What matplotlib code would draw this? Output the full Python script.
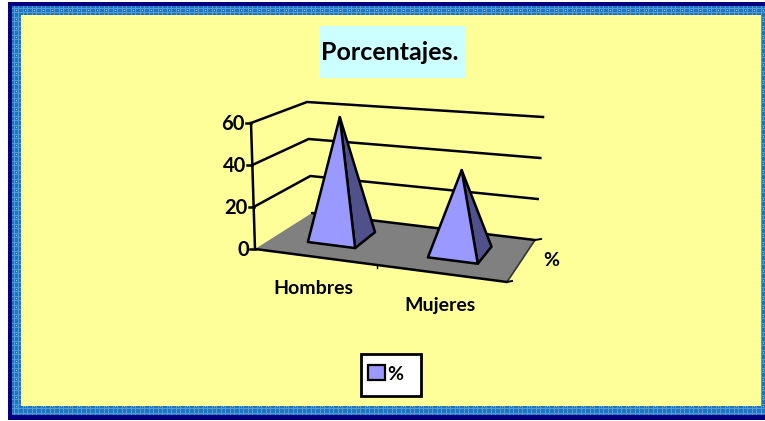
import numpy as np
import matplotlib
matplotlib.use("Agg")
import matplotlib.pyplot as plt
from matplotlib.patches import Rectangle, Polygon

# data
categories = ["Hombres", "Mujeres"]
values = [60, 40]
series_name = "%"
y_ticks = [0, 20, 40, 60]
y_max = 60

plt.rcParams['font.family'] = ['Lato', 'DejaVu Sans']

W, H = 765, 421
fig = plt.figure(figsize=(W / 100, H / 100), dpi=100)
ax = fig.add_axes([0, 0, 1, 1])
ax.set_xlim(0, W)
ax.set_ylim(H, 0)
ax.axis('off')


# corners of the box on screen: front left, front right, back right, back left
def homography(pts):
    src = [(0, 0), (1, 0), (1, 1), (0, 1)]
    a, b = [], []
    for (s, d), (x, y) in zip(src, pts):
        a.append([s, d, 1, 0, 0, 0, -s * x, -d * x])
        a.append([0, 0, 0, s, d, 1, -s * y, -d * y])
        b += [x, y]
    return np.append(np.linalg.solve(np.array(a, float), np.array(b, float)), 1).reshape(3, 3)


floor_h = homography([(255, 249), (507, 282), (535, 240), (312, 213)])
# screen offset of the top of the box at those same corners
lift = np.array([[-4, -126], [0, -125], [8, -123], [-5, -111]], float)


def proj(s, d, v=0):
    p = floor_h @ [s, d, 1]
    off = (1 - s) * (1 - d) * lift[0] + s * (1 - d) * lift[1] + s * d * lift[2] + (1 - s) * d * lift[3]
    return p[:2] / p[2] + off * v / y_max


# frame
def band_texture(w, h):
    img = np.zeros((h, w, 3))
    img[:] = (0.12, 0.46, 0.75)
    for j in range(h):
        for i in range(w):
            if i % 9 in (2, 6) or j % 9 in (2, 6):
                img[j, i] = (0.33, 0.61, 0.84)
            if i % 9 == 4 and j % 9 == 4:
                img[j, i] = (0.6, 0.8, 0.93)
    return img


ax.add_patch(Rectangle((8, 2), W - 8, 418, fc='#000080', ec='none', zorder=0))
ax.imshow(band_texture(W - 12, 409), extent=(12, W, 415, 6), zorder=1, aspect='auto', interpolation='nearest')
ax.set_xlim(0, W)
ax.set_ylim(H, 0)
ax.add_patch(Rectangle((21, 15), 740, 391, fc='#FFFF99', ec='none', zorder=2))

# title
ax.add_patch(Rectangle((320, 26), 146, 52, fc='#CCFFFF', ec='none', zorder=3))
ax.text(389.5, 52, "Porcentajes.", ha='center', va='center', fontsize=18, fontweight='bold', color='black', zorder=4)

# floor
ax.add_patch(Polygon([proj(0, 0), proj(1, 0), proj(1, 1), proj(0, 1)], fc='#808080', ec='none', zorder=3))
lw = 1.8
ax.plot(*zip(proj(1, 0), proj(1, 1)), color='#333333', lw=1.2, zorder=4)
for a, b in [((0, 1), (1, 1)), ((0, 0), (1, 0))]:
    ax.plot(*zip(proj(*a), proj(*b)), color='black', lw=lw, zorder=4, solid_capstyle='round')

# walls
for v in y_ticks:
    if v > 0:
        pts = [proj(0, 0, v), proj(0, 1, v), proj(1, 1, v)]
        ax.plot(*zip(*pts), color='black', lw=lw, zorder=4)
    x, y = proj(0, 0, v)
    ax.plot([x - 5, x], [y, y], color='black', lw=lw, zorder=4)
    ax.text(x - 6, y + 1.5, str(v), ha='right', va='center', fontsize=14.5, fontweight='bold', zorder=5)
ax.plot(*zip(proj(0, 0, 0), proj(0, 0, y_max)), color='black', lw=lw, zorder=4)

# ticks on floor edges
x, y = proj(0.5, 0)
ax.plot([x, x], [y, y + 3], color='black', lw=1, zorder=4)
x, y = proj(1, 0)
ax.plot([x, x + 5], [y, y - 1], color='black', lw=1.4, zorder=4)
x, y = proj(1, 1)
ax.plot([x, x + 6], [y, y - 1], color='black', lw=1.4, zorder=4)

# pyramids
half_s, half_d = 0.1, 0.21
centres = [(0.25, 0.5), (0.75, 0.5)]
for (cs, cd), val in zip(centres, values):
    fl = proj(cs - half_s, cd - half_d)
    fr = proj(cs + half_s, cd - half_d)
    br = proj(cs + half_s, cd + half_d)
    apex = proj(cs, cd, val)
    ax.add_patch(Polygon([fr, br, apex], fc='#50508A', ec='black', lw=lw, joinstyle='round', zorder=6))
    ax.add_patch(Polygon([fl, fr, apex], fc='#9999FF', ec='black', lw=lw, joinstyle='round', zorder=7))

# axis labels
ax.text(313, 288.5, categories[0], ha='center', va='center', fontsize=14, fontweight='bold', zorder=5)
ax.text(440, 305.5, categories[1], ha='center', va='center', fontsize=14, fontweight='bold', zorder=5)
ax.text(551, 260.5, series_name, ha='center', va='center', fontsize=14, fontweight='bold', zorder=5)

# legend
ax.add_patch(Rectangle((361, 354), 60, 42, fc='white', ec='black', lw=2, zorder=5))
ax.add_patch(Rectangle((368, 365), 17, 15, fc='#9999FF', ec='black', lw=1.6, zorder=6))
ax.text(395, 374, series_name, ha='center', va='center', fontsize=14, fontweight='bold', zorder=6)

fig.savefig("out.png", dpi=100)
